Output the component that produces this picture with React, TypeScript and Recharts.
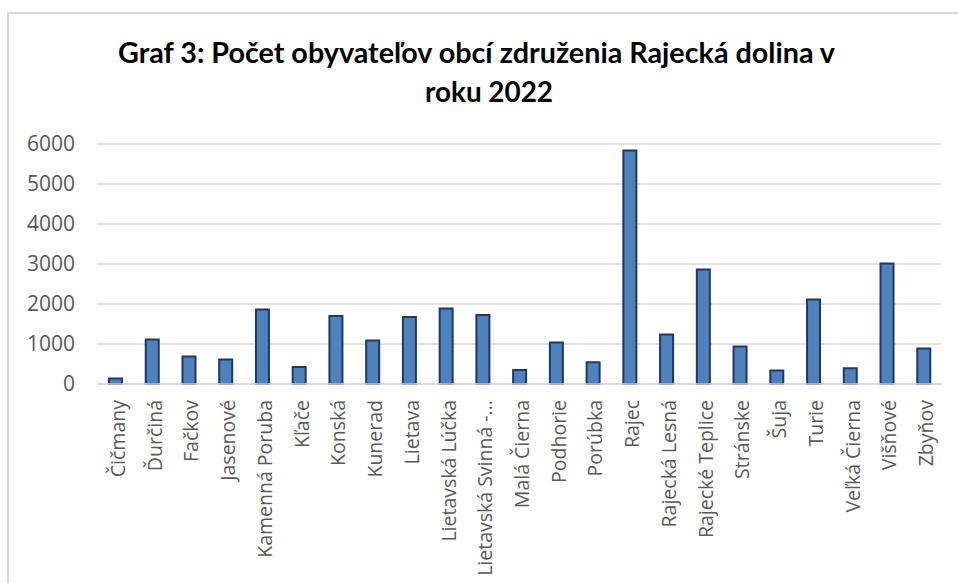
import { BarChart, Bar, XAxis, YAxis, CartesianGrid } from 'recharts'

const obce = [
  'Čičmany',
  'Ďurčiná',
  'Fačkov',
  'Jasenové',
  'Kamenná Poruba',
  'Kľače',
  'Konská',
  'Kunerad',
  'Lietava',
  'Lietavská Lúčka',
  'Lietavská Svinná - Babkov',
  'Malá Čierna',
  'Podhorie',
  'Porúbka',
  'Rajec',
  'Rajecká Lesná',
  'Rajecké Teplice',
  'Stránske',
  'Šuja',
  'Turie',
  'Veľká Čierna',
  'Višňové',
  'Zbyňov',
]

const obyvatelia = [
  140, 1115, 685, 615, 1865, 425, 1700, 1085, 1675, 1890, 1725, 350, 1040, 545,
  5835, 1240, 2865, 935, 335, 2115, 395, 3015, 890,
]

const yTicks = [0, 1000, 2000, 3000, 4000, 5000, 6000]

const data = obce.map((name, i) => ({ name, value: obyvatelia[i] }))

const labelFont = '"Open Sans", sans-serif'

function shortName(v: string) {
  return v.length > 22 ? v.slice(0, 18) + '...' : v
}

interface TickProps {
  x?: number
  y?: number
  payload?: { value: string }
}

function NameTick({ x = 0, y = 0, payload }: TickProps) {
  const tx = x + 2
  const ty = y + 8
  return (
    <text
      x={tx}
      y={ty}
      transform={`rotate(-90, ${tx}, ${ty})`}
      textAnchor="end"
      dominantBaseline="central"
      fill="#595959"
      fontSize={19.5}
      fontFamily={labelFont}
    >
      {shortName(payload?.value ?? '')}
    </text>
  )
}

export default function App() {
  return (
    <div
      style={{
        position: 'absolute',
        left: 0,
        top: 0,
        width: 958,
        height: 583,
        overflow: 'hidden',
        background: '#fff',
      }}
    >
      <div
        style={{
          position: 'absolute',
          left: 7,
          top: 12,
          width: 980,
          height: 600,
          border: '2px solid #d9d9d9',
        }}
      />
      <svg
        width={958}
        height={130}
        style={{ position: 'absolute', left: 0, top: 0 }}
      >
        <text
          x={118}
          y={63}
          textLength={717}
          lengthAdjust="spacingAndGlyphs"
          fontFamily="Lato, sans-serif"
          fontWeight={700}
          fontSize={28}
          fill="#000"
        >
          Graf 3: Počet obyvateľov obcí združenia Rajecká dolina v
        </text>
        <text
          x={425}
          y={102}
          textLength={128}
          lengthAdjust="spacingAndGlyphs"
          fontFamily="Lato, sans-serif"
          fontWeight={700}
          fontSize={28}
          fill="#000"
        >
          roku 2022
        </text>
      </svg>
      <div style={{ position: 'absolute', left: 0, top: 0 }}>
        <BarChart
          width={958}
          height={583}
          data={data}
          margin={{ top: 144, right: 16, bottom: 0, left: 0 }}
          barSize={13}
        >
          <CartesianGrid vertical={false} stroke="#d9d9d9" strokeWidth={1.5} />
          <XAxis
            dataKey="name"
            interval={0}
            height={199}
            tick={<NameTick />}
            tickLine={false}
            axisLine={{ stroke: '#d9d9d9', strokeWidth: 1.5 }}
          />
          <YAxis
            domain={[0, 6000]}
            ticks={yTicks}
            width={97}
            axisLine={false}
            tickLine={false}
            tickMargin={16}
            tick={{ fill: '#595959', fontSize: 21, fontFamily: labelFont }}
          />
          <Bar
            dataKey="value"
            fill="#4f81bd"
            stroke="#1f3864"
            strokeWidth={2}
            isAnimationActive={false}
          />
        </BarChart>
      </div>
    </div>
  )
}
